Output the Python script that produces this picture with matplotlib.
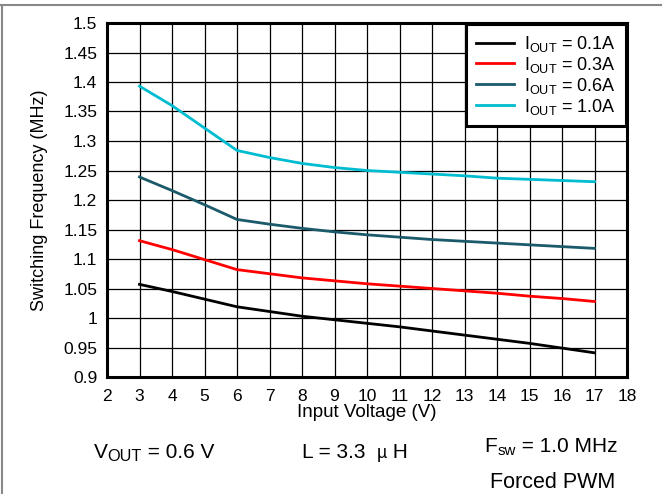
import matplotlib
matplotlib.use("Agg")
import matplotlib.pyplot as plt
from matplotlib.lines import Line2D

plt.rcParams['font.family'] = ['Liberation Sans', 'DejaVu Sans']
plt.rcParams['mathtext.fontset'] = 'custom'
plt.rcParams['mathtext.rm'] = 'Liberation Sans'

vin = [3, 4, 5, 6, 7, 8, 9, 10, 11, 12, 13, 14, 15, 16, 17]
f_01 = [1.057, 1.045, 1.032, 1.019, 1.011, 1.003, 0.997, 0.991, 0.985, 0.978, 0.971, 0.964, 0.957, 0.949, 0.941]
f_03 = [1.131, 1.116, 1.099, 1.082, 1.075, 1.068, 1.063, 1.058, 1.054, 1.050, 1.046, 1.042, 1.037, 1.033, 1.028]
f_06 = [1.239, 1.216, 1.192, 1.167, 1.159, 1.152, 1.146, 1.141, 1.137, 1.133, 1.130, 1.127, 1.124, 1.121, 1.118]
f_10 = [1.393, 1.360, 1.322, 1.284, 1.272, 1.262, 1.255, 1.250, 1.247, 1.244, 1.241, 1.237, 1.235, 1.233, 1.231]
labels = [r'I$_{\mathregular{OUT}}$ = 0.1A', r'I$_{\mathregular{OUT}}$ = 0.3A',
          r'I$_{\mathregular{OUT}}$ = 0.6A', r'I$_{\mathregular{OUT}}$ = 1.0A']
colors = ['#000000', '#ff0000', '#1a5a6a', '#00bcd0']
xticks = list(range(2, 19))
yticks = [0.9, 0.95, 1.0, 1.05, 1.1, 1.15, 1.2, 1.25, 1.3, 1.35, 1.4, 1.45, 1.5]
ytick_labels = ['0.9', '0.95', '1', '1.05', '1.1', '1.15', '1.2', '1.25', '1.3', '1.35', '1.4', '1.45', '1.5']

W, H = 663, 494
fig = plt.figure(figsize=(W / 100, H / 100), dpi=100)
ax = fig.add_axes([107 / W, 1 - 377 / H, (627 - 107) / W, (377 - 23) / H])

for y, c, lab in zip([f_01, f_03, f_06, f_10], colors, labels):
    ax.plot(vin, y, color=c, lw=2, label=lab, zorder=3)

ax.set_xlim(2, 18)
ax.set_ylim(0.9, 1.5)
ax.set_xticks(xticks)
ax.set_yticks(yticks)
ax.set_yticklabels(ytick_labels)
ax.grid(True, color='black', lw=0.9, zorder=0)
ax.set_axisbelow(True)
ax.tick_params(length=0, labelsize=12.5)
ax.tick_params(axis='x', pad=8.5)
ax.tick_params(axis='y', pad=7)
for s in ax.spines.values():
    s.set_linewidth(2.2)
ax.set_xlabel('Input Voltage (V)', fontsize=13.5, labelpad=0)
ax.set_ylabel('Switching Frequency (MHz)', fontsize=13, labelpad=11)

leg = ax.legend(loc='upper right', fontsize=13, frameon=True, fancybox=False,
                framealpha=1, edgecolor='black', borderaxespad=0.05,
                handlelength=2.1, labelspacing=0.05, borderpad=0.55, handletextpad=0.6)
leg.get_frame().set_linewidth(2.2)

renderer = fig.canvas.get_renderer()


def composite(xc, ybase, parts, size=15):
    """parts: list of (text, scale, drop_px). Centered horizontally at xc (px)."""
    objs = []
    widths = []
    for txt, sc, drop in parts:
        t = fig.text(0, 0, txt, fontsize=size * sc, ha='left', va='baseline')
        bb = t.get_window_extent(renderer)
        objs.append((t, drop))
        widths.append(bb.width)
    total = sum(widths)
    x = xc - total / 2
    for (t, drop), w in zip(objs, widths):
        t.set_position((x / W, 1 - (ybase + drop) / H))
        x += w


composite(154, 458, [('V', 1, 0), ('OUT', 0.78, 3), (' = 0.6 V', 1, 0)])
composite(355, 458, [('L = 3.3  ', 1, 0), ('µ', 0.85, 0), (' H', 1, 0)])
composite(551, 452, [('F', 1, 0), ('sw', 0.72, 3), (' = 1.0 MHz', 1, 0)])
composite(553, 488, [('Forced PWM', 1, 0)], size=15.5)

fig.add_artist(Line2D([0, 661 / W], [1 - 5.5 / H, 1 - 5.5 / H], transform=fig.transFigure, color='#888888', lw=1.5))
fig.add_artist(Line2D([1.5 / W, 1.5 / W], [0, 1 - 5.5 / H], transform=fig.transFigure, color='#888888', lw=1.5))

fig.savefig('out.png', dpi=100)
